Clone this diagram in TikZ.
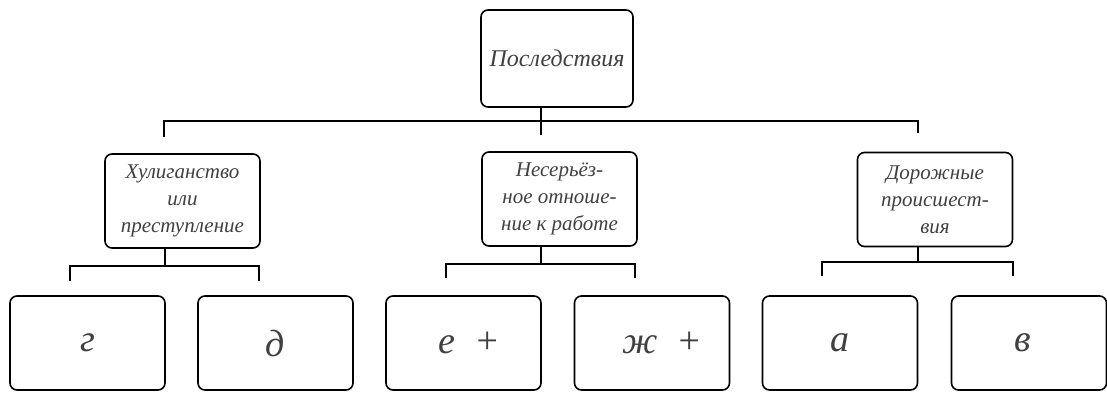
\documentclass[tikz,border=0pt]{standalone}
\usepackage{fontspec}
\setmainfont{Liberation Serif}
\begin{document}
\begin{tikzpicture}[x=1pt,y=-1pt]

\tikzstyle{box}=[draw, align=center, rounded corners=7pt, line width=1.6pt, inner sep=2pt, text=black!75, font=\itshape\fontsize{21}{27}\selectfont]
\tikzstyle{mid}=[box, minimum width=155pt, minimum height=94pt]
\tikzstyle{leaf}=[box, minimum width=155pt, minimum height=94pt, font=\itshape\fontsize{38}{40}\selectfont]
\tikzstyle{cr}=[line width=1.6pt]

\useasboundingbox (0,0) rectangle (1107,394);

% top
\node(cons)[box, minimum width=152pt, minimum height=97pt, font=\itshape\fontsize{24}{28}\selectfont] at (557,58.5) {Последствия};

% middle row
\node(hool)[mid] at (182.5,201) {Хулиганство\\или\\преступление};
\node(care)[mid] at (559.5,199) {Несерьёз-\\ное отноше-\\ние к работе};
\node(road)[mid] at (935,199.5) {Дорожные\\происшест-\\вия};

% bottom row
\node(g)[leaf] at (87.5,343) {г};
\node(d)[leaf] at (275.5,343) {д};
\node(e)[leaf] at (463.5,343) {\hspace{12pt}е\enspace+};
\node(zh)[leaf] at (652,343) {\hspace{20pt}ж\enspace+};
\node(a)[leaf] at (840,343) {а};
\node(v)[leaf] at (1029,343) {\hspace{-12pt}в};

% top bracket
\coordinate(t0) at (541,121);
\coordinate(tl) at (164,137);
\coordinate(tm) at (541,135);
\coordinate(tr) at (918,133);
\draw[cr] (cons.south -| t0) -- (tm);
\draw[cr] (tl) |- (t0) -| (tr);

% left bracket
\coordinate(h0) at (165,266);
\coordinate(hl) at (70,281);
\coordinate(hr) at (259,281);
\draw[cr] (hool.south -| h0) -- (h0);
\draw[cr] (hl) |- (h0) -| (hr);

% middle bracket
\coordinate(c0) at (541,264);
\coordinate(cl) at (446,278);
\coordinate(cr) at (635,278);
\draw[cr] (care.south -| c0) -- (c0);
\draw[cr] (cl) |- (c0) -| (cr);

% right bracket
\coordinate(r0) at (918,262);
\coordinate(rl) at (822,276);
\coordinate(rr) at (1013,276);
\draw[cr] (road.south -| r0) -- (r0);
\draw[cr] (rl) |- (r0) -| (rr);

\end{tikzpicture}
\end{document}
